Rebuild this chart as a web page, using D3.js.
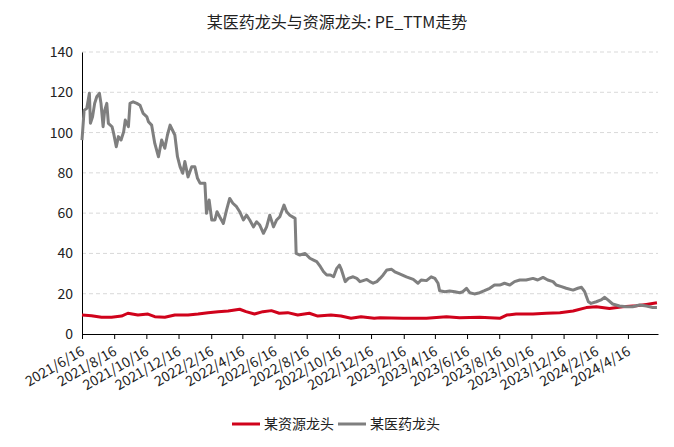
<!DOCTYPE html>
<html>
<head>
<meta charset="utf-8">
<script src="https://cdn.jsdelivr.net/npm/d3@7"></script>
<style>
  body { margin: 0; background: #fff; }
  text { font-family: "Microsoft YaHei", "Noto Sans CJK SC", sans-serif; fill: #222; }
</style>
</head>
<body>
<svg id="chart" width="674" height="447"></svg>
<script>
let title = '某医药龙头与资源龙头: PE_TTM走势';
let seriesNames = ['某资源龙头', '某医药龙头'];
let seriesColors = ['#d0021b', '#7f7f7f'];
let yTicks = [0, 20, 40, 60, 80, 100, 120, 140];
let xTickDates = ['2021-06-16', '2021-08-16', '2021-10-16', '2021-12-16', '2022-02-16', '2022-04-16',
    '2022-06-16', '2022-08-16', '2022-10-16', '2022-12-16', '2023-02-16', '2023-04-16', '2023-06-16',
    '2023-08-16', '2023-10-16', '2023-12-16', '2024-02-16', '2024-04-16'];

// 某资源龙头
let resDates = ['2021-06-16', '2021-07-04', '2021-07-23', '2021-08-11', '2021-08-30', '2021-09-11', '2021-09-30',
    '2021-10-19', '2021-11-01', '2021-11-20', '2021-12-09', '2022-01-03', '2022-01-22', '2022-02-10',
    '2022-03-01', '2022-03-20', '2022-04-11', '2022-04-23', '2022-05-09', '2022-05-25', '2022-06-10',
    '2022-06-25', '2022-07-11', '2022-07-30', '2022-08-21', '2022-09-06', '2022-10-01', '2022-10-20',
    '2022-11-08', '2022-11-27', '2022-12-22', '2023-01-02', '2023-02-15', '2023-03-31', '2023-05-08',
    '2023-06-02', '2023-07-10', '2023-08-17', '2023-08-30', '2023-09-17', '2023-10-19', '2023-11-13',
    '2023-12-09', '2024-01-03', '2024-01-28', '2024-02-16', '2024-03-12', '2024-04-06', '2024-05-02',
    '2024-05-21', '2024-06-10'];
let resValues = [9.4, 9.1, 8.3, 8.3, 8.9, 10.3, 9.4,
    9.9, 8.6, 8.3, 9.4, 9.4, 9.9, 10.6,
    11.1, 11.4, 12.3, 11.1, 9.9, 11.1, 11.6,
    10.3, 10.6, 9.4, 10.3, 8.9, 9.4, 8.9,
    7.8, 8.6, 7.8, 8.1, 7.8, 7.8, 8.6,
    8.1, 8.3, 7.8, 9.4, 9.9, 9.9, 10.3,
    10.6, 11.4, 13.1, 13.5, 12.7, 13.5, 14.0,
    14.7, 15.5];

// 某医药龙头
let medDates = ['2021-06-16', '2021-06-20', '2021-06-25', '2021-06-30', '2021-07-02', '2021-07-06', '2021-07-10',
    '2021-07-14', '2021-07-19', '2021-07-22', '2021-07-26', '2021-07-29', '2021-08-02', '2021-08-05',
    '2021-08-12', '2021-08-15', '2021-08-20', '2021-08-24', '2021-08-29', '2021-09-03', '2021-09-06',
    '2021-09-12', '2021-09-15', '2021-09-21', '2021-09-28', '2021-10-04', '2021-10-10', '2021-10-17',
    '2021-10-20', '2021-10-26', '2021-11-01', '2021-11-08', '2021-11-14', '2021-11-20', '2021-11-25',
    '2021-11-30', '2021-12-06', '2021-12-09', '2021-12-14', '2021-12-19', '2021-12-24', '2021-12-28',
    '2022-01-03', '2022-01-10', '2022-01-16', '2022-01-21', '2022-01-26', '2022-02-04', '2022-02-07',
    '2022-02-12', '2022-02-17', '2022-02-23', '2022-02-27', '2022-03-04', '2022-03-11', '2022-03-17',
    '2022-03-23', '2022-03-29', '2022-04-05', '2022-04-11', '2022-04-18', '2022-04-24', '2022-04-30',
    '2022-05-07', '2022-05-13', '2022-05-19', '2022-05-26', '2022-06-01', '2022-06-07', '2022-06-14',
    '2022-06-20', '2022-06-26', '2022-07-04', '2022-07-09', '2022-07-15', '2022-07-25', '2022-07-27',
    '2022-08-03', '2022-08-13', '2022-08-22', '2022-08-29', '2022-09-04', '2022-09-11', '2022-09-17',
    '2022-09-23', '2022-09-30', '2022-10-06', '2022-10-12', '2022-10-17', '2022-10-21', '2022-10-28',
    '2022-11-03', '2022-11-12', '2022-11-19', '2022-11-25', '2022-12-01', '2022-12-08', '2022-12-14',
    '2022-12-20', '2022-12-27', '2023-01-02', '2023-01-08', '2023-01-15', '2023-01-24', '2023-01-30',
    '2023-02-06', '2023-02-21', '2023-03-06', '2023-03-15', '2023-03-21', '2023-03-31', '2023-04-09',
    '2023-04-16', '2023-04-22', '2023-04-25', '2023-05-05', '2023-05-14', '2023-05-24', '2023-06-02',
    '2023-06-08', '2023-06-15', '2023-06-21', '2023-06-30', '2023-07-10', '2023-07-19', '2023-07-29',
    '2023-08-07', '2023-08-17', '2023-08-26', '2023-09-05', '2023-09-14', '2023-09-24', '2023-10-06',
    '2023-10-19', '2023-10-28', '2023-11-07', '2023-11-16', '2023-11-26', '2023-12-02', '2023-12-12',
    '2023-12-21', '2024-01-03', '2024-01-12', '2024-01-19', '2024-01-25', '2024-02-01', '2024-02-06',
    '2024-02-16', '2024-02-25', '2024-03-03', '2024-03-09', '2024-03-18', '2024-03-31', '2024-04-13',
    '2024-04-25', '2024-05-08', '2024-05-21', '2024-06-02', '2024-06-10'];
let medValues = [96.3, 111, 112, 119.5, 104.6, 107.8, 114.5,
    117.8, 119.5, 114.5, 102.9, 111, 114.5, 104.6,
    102.9, 99.6, 93, 98, 96.3, 100.4, 106.2,
    102.9, 114.5, 115.3, 114.5, 113.6, 109.5, 107.8,
    105.4, 103.7, 94.6, 88, 96.3, 92.2, 98.8,
    103.7, 100.4, 98.8, 88, 83, 79.8, 85.6,
    78, 83, 83, 77.3, 74.8, 74.8, 59.9,
    66.5, 56.6, 56.6, 60.7, 58.2, 54.9, 61.5,
    67.3, 64.9, 63.2, 60.7, 56.6, 59, 56.6,
    53.2, 55.7, 54.1, 50, 53.2, 59, 53.2,
    56.6, 58.2, 64, 60.7, 59, 57.4, 40,
    39.2, 40, 37.6, 36.7, 35.9, 33.4, 30.9,
    29.3, 29.3, 28.4, 32.6, 34.2, 31.8, 26,
    27.6, 28.4, 27.6, 26, 26.5, 27.1, 26,
    25.2, 26, 27.6, 29.3, 31.8, 32.1, 30.9,
    30.1, 28.4, 27.1, 25.2, 26.8, 26.5, 28.4,
    27.6, 25.2, 21.5, 21, 21.3, 21, 20.5,
    21, 22.7, 20.5, 19.9, 20.5, 21.5, 22.7,
    24.3, 24.3, 25.2, 24.3, 26, 26.8, 26.8,
    27.6, 26.8, 28.1, 26.8, 26, 24.3, 23.5,
    22.7, 21.8, 22.7, 23.2, 21, 16, 15.2,
    16, 16.9, 18.2, 16.9, 14.9, 13.9, 13.5,
    13.5, 14.4, 13.9, 13.2, 13.2];

let width = 674, height = 447;
let margin = {top: 52, right: 16, bottom: 113, left: 82};
let parse = d3.timeParse('%Y-%m-%d');
let fmt = d3.timeFormat('%Y/%-m/%-d');

let svg = d3.select('#chart');

let x = d3.scaleTime()
    .domain([parse('2021-06-16'), parse('2024-06-12')])
    .range([margin.left, width - margin.right]);
let y = d3.scaleLinear()
    .domain([0, 140])
    .range([height - margin.bottom, margin.top]);

// grid lines
svg.append('g')
    .selectAll('line')
    .data(yTicks.filter(d => d > 0))
    .enter()
    .append('line')
    .attr('x1', margin.left)
    .attr('x2', width - margin.right)
    .attr('y1', d => y(d))
    .attr('y2', d => y(d))
    .attr('stroke', '#d9d9d9')
    .attr('stroke-width', 1)
    .attr('stroke-dasharray', '4,3');

// y axis
let yAxis = svg.append('g')
    .attr('transform', 'translate(' + margin.left + ',0)')
    .call(d3.axisLeft(y).tickValues(yTicks).tickSize(0).tickPadding(9));
yAxis.select('.domain').attr('stroke', '#000');
yAxis.selectAll('text').style('font-size', '14px').attr('fill', '#222');

// series lines
let line = d3.line()
    .x(d => x(d[0]))
    .y(d => y(d[1]));

let resData = resDates.map((d, i) => [parse(d), resValues[i]]);
let medData = medDates.map((d, i) => [parse(d), medValues[i]]);

svg.append('path')
    .datum(resData)
    .attr('d', line)
    .attr('fill', 'none')
    .attr('stroke', seriesColors[0])
    .attr('stroke-width', 3)
    .attr('stroke-linejoin', 'round');

svg.append('path')
    .datum(medData)
    .attr('d', line)
    .attr('fill', 'none')
    .attr('stroke', seriesColors[1])
    .attr('stroke-width', 3)
    .attr('stroke-linejoin', 'round');

// x axis
let xAxis = svg.append('g')
    .attr('transform', 'translate(0,' + (height - margin.bottom) + ')')
    .call(d3.axisBottom(x).tickValues(xTickDates.map(parse)).tickFormat(fmt).tickSize(5).tickSizeOuter(0));
xAxis.select('.domain').attr('stroke', '#000');
xAxis.selectAll('.tick line').attr('stroke', '#000');
xAxis.selectAll('text')
    .style('font-size', '14px')
    .attr('fill', '#222')
    .attr('text-anchor', 'end')
    .attr('y', 0)
    .attr('dy', 0)
    .attr('transform', 'translate(3,20) rotate(-30)');

// title
svg.append('text')
    .attr('x', 337)
    .attr('y', 28)
    .attr('text-anchor', 'middle')
    .style('font-size', '16px')
    .text(title);

// legend
let legend = svg.append('g');
let legendX = [232, 338];
seriesNames.forEach(function (name, i) {
    legend.append('line')
        .attr('x1', legendX[i])
        .attr('x2', legendX[i] + 28)
        .attr('y1', 424)
        .attr('y2', 424)
        .attr('stroke', seriesColors[i])
        .attr('stroke-width', 3);
    legend.append('text')
        .attr('x', legendX[i] + 32)
        .attr('y', 424)
        .attr('dy', '0.35em')
        .style('font-size', '14px')
        .text(name);
});
</script>
</body>
</html>
